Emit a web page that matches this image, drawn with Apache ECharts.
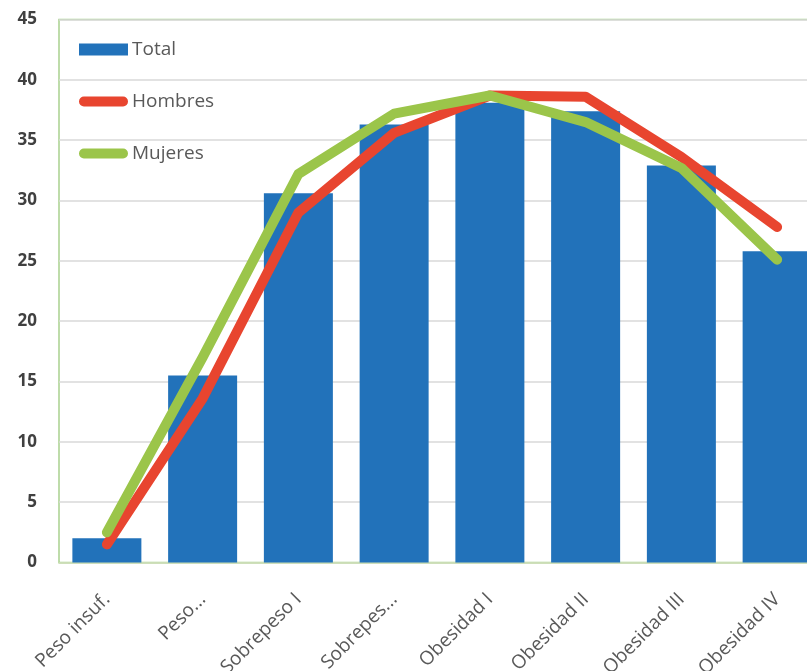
<!DOCTYPE html>
<html>
<head>
<meta charset="utf-8">
<script src="https://cdn.jsdelivr.net/npm/echarts@6/dist/echarts.min.js"></script>
<style>
html,body{margin:0;padding:0;background:#fff;}
#chart{width:807px;height:671px;}
</style>
</head>
<body>
<div id="chart"></div>
<script>
const categories = ['Peso insuf.', 'Peso...', 'Sobrepeso I', 'Sobrepes...', 'Obesidad I', 'Obesidad II', 'Obesidad III', 'Obesidad IV'];
const total = [2.0, 15.5, 30.6, 36.3, 38.1, 37.4, 32.9, 25.8];
const hombres = [1.5, 13.6, 29.0, 35.6, 38.7, 38.6, 33.6, 27.8];
const mujeres = [2.5, 17.0, 32.2, 37.2, 38.7, 36.5, 32.7, 25.1];
const yTicks = { min: 0, max: 45, interval: 5 };

const capsule = 'path://M5,0 L45,0 A5,5 0 0 1 45,10 L5,10 A5,5 0 0 1 5,0 Z';
const chart = echarts.init(document.getElementById('chart'));
chart.setOption({
  animation: false,
  backgroundColor: '#ffffff',
  textStyle: { fontFamily: 'Open Sans' },
  grid: {
    left: 59, width: 766, top: 19.5, bottom: 108.5,
    outerBoundsMode: 'none', containLabel: false,
    show: true, borderColor: '#a9d18e', borderWidth: 1.5
  },
  legend: {
    orient: 'vertical',
    left: 79, top: 40, padding: 0,
    itemWidth: 49, itemHeight: 12, itemGap: 33,
    textStyle: { fontSize: 19, color: '#595959', fontFamily: 'Open Sans', padding: [0,0,0,-1] },
    data: [
      { name: 'Total', icon: 'rect' },
      { name: 'Hombres', icon: capsule, itemStyle: { color: '#e8452f' } },
      { name: 'Mujeres', icon: capsule, itemStyle: { color: '#9bc54a' } }
    ]
  },
  xAxis: {
    type: 'category',
    data: categories,
    axisLine: { show: true, lineStyle: { color: '#c9dfb0', width: 1.5 } },
    axisTick: { show: false },
    axisLabel: { rotate: 45, fontSize: 19, color: '#595959', margin: 34, interval: 0 }
  },
  yAxis: {
    type: 'value',
    min: yTicks.min, max: yTicks.max, interval: yTicks.interval,
    axisLine: { show: false },
    axisTick: { show: false },
    splitLine: { lineStyle: { color: '#d9d9d9', width: 1.5 } },
    axisLabel: { fontSize: 17, fontWeight: 'bold', color: '#404040', margin: 22 }
  },
  series: [
    {
      name: 'Total', type: 'bar', data: total,
      barWidth: 69,
      itemStyle: { color: '#2272ba' }
    },
    {
      name: 'Hombres', type: 'line', data: hombres,
      symbol: 'none',
      lineStyle: { color: '#e8452f', width: 10, cap: 'round', join: 'round' },
      itemStyle: { color: '#e8452f' }
    },
    {
      name: 'Mujeres', type: 'line', data: mujeres,
      symbol: 'none',
      lineStyle: { color: '#9bc54a', width: 10, cap: 'round', join: 'round' },
      itemStyle: { color: '#9bc54a' }
    }
  ]
});
</script>
</body>
</html>
